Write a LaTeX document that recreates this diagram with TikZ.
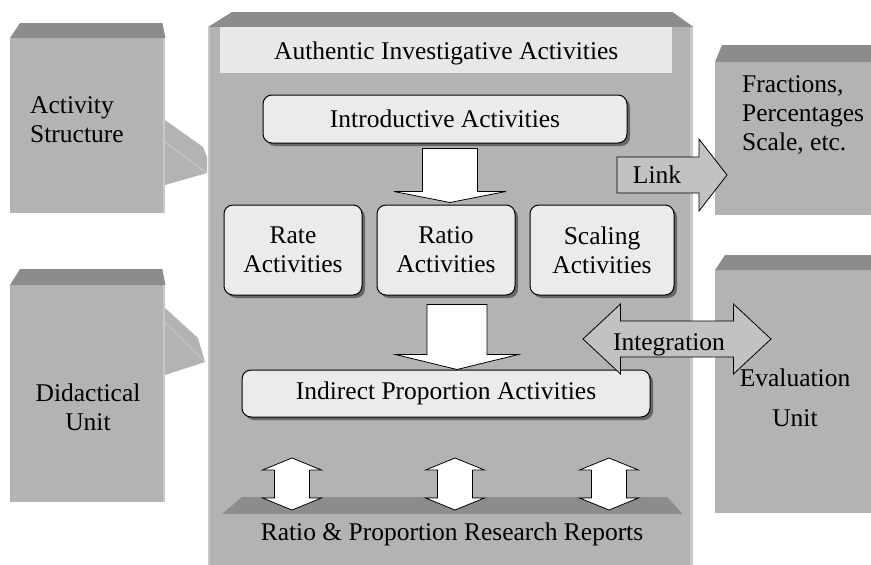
\documentclass[tikz,border=0pt]{standalone}
\usepackage{fontspec}
\setmainfont{Liberation Serif}
\usetikzlibrary{positioning, calc, shadows}

\definecolor{facegray}{HTML}{B3B3B3}
\definecolor{topgray}{HTML}{8C8C8C}
\definecolor{edgegray}{HTML}{C8C8C8}
\definecolor{bannergray}{HTML}{E8E8E8}
\definecolor{boxgray}{HTML}{EBEBEB}
\definecolor{arrowgray}{HTML}{C2C2C2}

% slanted top of a box: node, left inset, right inset, depth
\newcommand\topface[4]{%
  \fill[topgray] (#1.north west) -- ++(#2,-#4) -- ($(#1.north east)+(-#3,-#4)$) -- (#1.north east) -- cycle;}
% block arrows: start, tip, half shaft, half head, head length
\newcommand\vblock[5]{%
  \draw[blockarrow] ($(#1)+(-#3,0)$) -- ($(#2)+(-#3,-#5)$) -- ($(#2)+(-#4,-#5)$) -- (#2)
    -- ($(#2)+(#4,-#5)$) -- ($(#2)+(#3,-#5)$) -- ($(#1)+(#3,0)$) -- cycle;}
\newcommand\vdouble[5]{%
  \draw[blockarrow] (#1) -- ($(#1)+(#4,#5)$) -- ($(#1)+(#3,#5)$) -- ($(#2)+(#3,-#5)$) -- ($(#2)+(#4,-#5)$)
    -- (#2) -- ($(#2)+(-#4,-#5)$) -- ($(#2)+(-#3,-#5)$) -- ($(#1)+(-#3,#5)$) -- ($(#1)+(-#4,#5)$) -- cycle;}
\newcommand\hblock[5]{%
  \draw[blockarrow, fill=arrowgray] ($(#1)+(0,-#3)$) -- ($(#2)+(-#5,-#3)$) -- ($(#2)+(-#5,-#4)$) -- (#2)
    -- ($(#2)+(-#5,#4)$) -- ($(#2)+(-#5,#3)$) -- ($(#1)+(0,#3)$) -- cycle;}
\newcommand\hdouble[5]{%
  \draw[blockarrow, fill=arrowgray] (#1) -- ($(#1)+(#5,-#4)$) -- ($(#1)+(#5,-#3)$) -- ($(#2)+(-#5,-#3)$) -- ($(#2)+(-#5,-#4)$)
    -- (#2) -- ($(#2)+(-#5,#4)$) -- ($(#2)+(-#5,#3)$) -- ($(#1)+(#5,#3)$) -- ($(#1)+(#5,#4)$) -- cycle;}

\begin{document}
\begin{tikzpicture}[x=1pt, y=-1pt,
     font = \fontsize{25.5pt}{29pt}\selectfont,
     face/.style = {fill=facegray, inner sep=0pt, anchor=north west},
   banner/.style = {fill=bannergray, inner sep=0pt, text depth=0pt},
      act/.style = {draw, line width=1pt, rounded corners=9pt, fill=boxgray, align=center, inner sep=0pt,
                    drop shadow={shadow xshift=3pt, shadow yshift=-3pt, fill=black!80, opacity=.6}},
    blockarrow/.style = {draw, line width=0.8pt, fill=white, line join=miter},
      txt/.style = {inner sep=0pt}
                        ]
\useasboundingbox (0,0) rectangle (871,565);
\clip (0,0) rectangle (871,565);
% side boxes on the left
\node (actbox) [face, minimum width=155pt, minimum height=175pt] at (10,38) {};
\node (didbox) [face, minimum width=155pt, minimum height=217pt] at (10,285) {};
\topface{actbox}{10}{3}{15}
\topface{didbox}{10}{3}{16}
\fill[edgegray] ($(actbox.north east)+(-2,0)$) rectangle (actbox.south east);
\fill[edgegray] ($(didbox.north east)+(-2,0)$) rectangle (didbox.south east);
\fill[facegray] (165,120) -- (203,147) -- (207,157) -- (207,173) -- (165,185) -- cycle;
\draw[edgegray, line width=1pt] (165,142) -- (207,173);
\fill[facegray] (165,308) -- (198,338) -- (205,362) -- (165,375) -- cycle;
\draw[edgegray, line width=1pt] (165,322) -- (205,362);
% side boxes on the right
\node (fracbox) [face, minimum width=170pt, minimum height=153pt] at (715,62) {};
\node (evalbox) [face, minimum width=170pt, minimum height=243pt] at (715,270) {};
\topface{fracbox}{7}{0}{17}
\topface{evalbox}{10}{0}{15}
% main box
\node (main) [face, minimum width=485pt, minimum height=545pt] at (208,27) {};
\topface{main}{24}{21}{15}
\fill[edgegray] (main.north west) rectangle ($(main.south west)+(2,0)$);
\fill[edgegray] ($(main.north east)+(-3,0)$) rectangle (main.south east);
\node (banner) [banner, anchor=north west, minimum width=452pt, minimum height=46pt] at (220,27) {Authentic Investigative Activities};
\node (intro) [act, minimum width=364pt, minimum height=48pt] at (445,119) {Introductive Activities};
\node (ratio) [act, minimum width=138pt, minimum height=90pt] at (446,250) {Ratio\\Activities};
\node (rate) [act, minimum width=138pt, minimum height=90pt, left=14pt of ratio] {Rate\\Activities};
\node (scaling) [act, minimum width=144pt, minimum height=90pt, right=14pt of ratio] {Scaling\\Activities};
\node (indirect) [act, minimum width=408pt, minimum height=47pt] at (446,393.5) {Indirect Proportion Activities};
\coordinate (d1) at ($(intro.south)+(5,5)$);
\coordinate (d1tip) at ($(d1 |- ratio.north)+(0,-2)$);
\coordinate (d2) at ($(ratio.south)+(11,9)$);
\coordinate (d2tip) at (d2 |- indirect.north);
\vblock{d1}{d1tip}{27.5}{56}{11}
\vblock{d2}{d2tip}{30}{61.5}{15}
% research reports
\node (reports) [face, minimum width=460pt, minimum height=60pt] at (222,514) {};
\topface{reports}{20}{15}{17}
\node (reptext) [txt, anchor=base] at (452,540) {Ratio \& Proportion Research Reports};
\foreach \x in {292,455,609}
  \vdouble{\x,458}{\x,510}{17.5}{29.5}{12};
% link and integration
\hblock{617,175}{727,175}{18}{36}{28}
\node (link) [txt] at (657,175) {Link};
\hdouble{583,339}{771,339}{18}{35}{37.5}
\node (integ) [txt, anchor=base] at (669,350) {Integration};
% labels of the side boxes
\node (acttext) [txt, anchor=north west, align=left] at (30,96) {Activity\\Structure};
\node (didtext) [txt, anchor=north, align=center] at (88,384) {Didactical\\Unit};
\node (fractext) [txt, anchor=north west, align=left] at (742,75) {Fractions,\\Percentages\\Scale, etc.};
\node (evaltext) [txt, anchor=north, align=center] at (795,369) {Evaluation\\[11pt]Unit};
\end{tikzpicture}
\end{document}
